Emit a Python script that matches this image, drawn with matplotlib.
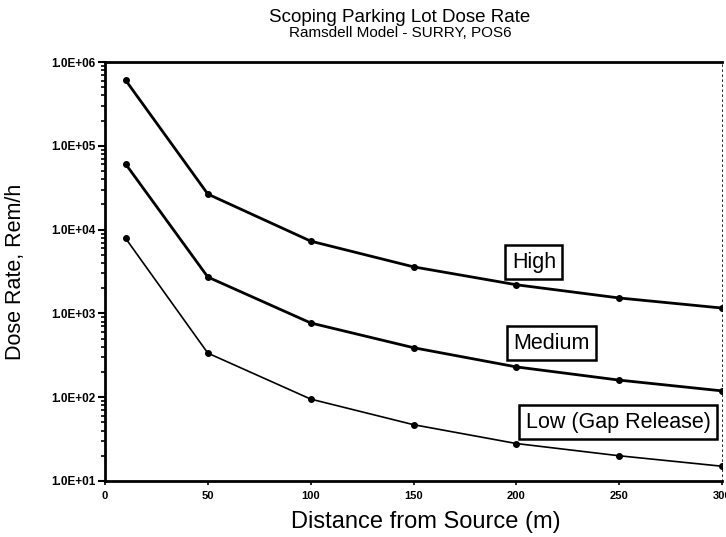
import numpy as np
import matplotlib
matplotlib.use("Agg")
import matplotlib.pyplot as plt
from matplotlib.ticker import FixedLocator, FuncFormatter, LogLocator

distance = [10, 50, 100, 150, 200, 250, 300]
high = [6.1e5, 2.66e4, 7.3e3, 3.6e3, 2.2e3, 1.53e3, 1.16e3]
medium = [6.1e4, 2.72e3, 7.7e2, 3.9e2, 2.3e2, 1.6e2, 1.19e2]
low = [7.9e3, 3.36e2, 9.5e1, 4.7e1, 2.8e1, 2.0e1, 1.5e1]

x_ticks = [0, 50, 100, 150, 200, 250, 300]
y_ticks = [1e1, 1e2, 1e3, 1e4, 1e5, 1e6]

plt.rcParams["font.family"] = ["Liberation Sans", "DejaVu Sans"]

fig = plt.figure(figsize=(7.26, 5.37), dpi=100)
ax = fig.add_axes([0.1446, 0.1043, 0.85, 0.780])

ax.plot(distance, high, color="black", lw=2.0, marker="o", ms=4)
ax.plot(distance, medium, color="black", lw=2.0, marker="o", ms=4)
ax.plot(distance, low, color="black", lw=1.2, marker="o", ms=4)

ax.set_yscale("log")
ax.set_xlim(0, 300)
ax.set_ylim(1e1, 1e6)

ax.xaxis.set_major_locator(FixedLocator(x_ticks))
ax.yaxis.set_major_locator(FixedLocator(y_ticks))
ax.yaxis.set_minor_locator(LogLocator(base=10, subs=np.arange(2, 10)))
ax.yaxis.set_major_formatter(FuncFormatter(lambda v, p: "1.0E+%02d" % round(np.log10(v))))
ax.yaxis.set_minor_formatter(FuncFormatter(lambda v, p: ""))
ax.tick_params(axis="y", which="major", length=5, width=1.5, labelsize=8.5, pad=2)
ax.tick_params(axis="y", which="minor", length=3, width=1.2)
ax.tick_params(axis="x", which="major", length=3, width=1.2, labelsize=8, pad=4)
for lab in ax.get_xticklabels() + ax.get_yticklabels():
    lab.set_fontweight("bold")

for side in ["left", "bottom", "top"]:
    ax.spines[side].set_linewidth(2.0)
ax.spines["right"].set_linewidth(0.6)
ax.spines["right"].set_linestyle((0, (2, 4)))

fig.text(0.551, 0.968, "Scoping Parking Lot Dose Rate", ha="center", va="center", fontsize=13.5)
fig.text(0.551, 0.938, "Ramsdell Model - SURRY, POS6", ha="center", va="center", fontsize=11)
ax.set_xlabel("Distance from Source (m)", fontsize=17)
ax.xaxis.set_label_coords(0.52, -0.072)
ax.set_ylabel("Dose Rate, Rem/h", fontsize=15.5)
ax.yaxis.set_label_coords(-0.128, 0.5)

box = dict(boxstyle="square,pad=0.3", fc="white", ec="black", lw=1.8)
ax.text(208.5, 4.1e3, "High", fontsize=15.5, ha="center", va="center", bbox=box)
ax.text(217, 4.4e2, "Medium", fontsize=15.5, ha="center", va="center", bbox=box)
ax.text(249.5, 5.0e1, "Low (Gap Release)", fontsize=15.5, ha="center", va="center",
        bbox=box, clip_on=False)

fig.savefig("out.png", dpi=100)
